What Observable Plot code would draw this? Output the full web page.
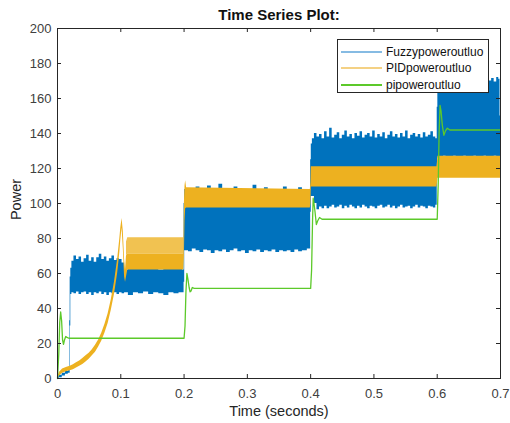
<!DOCTYPE html>
<html>
<head>
<meta charset="utf-8">
<script src="https://cdn.jsdelivr.net/npm/d3@7"></script>
<script src="https://cdn.jsdelivr.net/npm/@observablehq/plot@0.6"></script>
<style>
  html, body { margin: 0; padding: 0; background: #fff; }
  #wrap { position: relative; width: 510px; height: 423px; font-family: "Liberation Sans", Arial, sans-serif; }
  #legend { position: absolute; left: 337px; top: 39px; width: 152px; height: 54px; box-sizing: border-box;
            border: 1px solid #262626; background: #fff; }
  .row { position: absolute; left: 0; height: 16px; width: 100%; }
  .swatch { position: absolute; left: 3px; width: 41px; height: 2px; top: 7px; }
  .lab { position: absolute; left: 48px; top: 0; font-size: 12px; line-height: 16px; color: #111; white-space: nowrap; }
</style>
</head>
<body>
<div id="wrap"></div>
<script>
// ---- chart text ----
const chartTitle = "Time Series Plot:";
const xLabel = "Time (seconds)";
const yLabel = "Power";
const seriesNames = ["Fuzzypoweroutluo", "PIDpoweroutluo", "pipoweroutluo"];
const seriesColors = ["#0072BD", "#EDB120", "#5CC92A"];
const legendColors = ["#86BBE3", "#F4D184", "#5CC92A"];

// ---- ticks ----
const xTicks = [0, 0.1, 0.2, 0.3, 0.4, 0.5, 0.6, 0.7];
const xTickLabels = ["0", "0.1", "0.2", "0.3", "0.4", "0.5", "0.6", "0.7"];
const yTicks = [0, 20, 40, 60, 80, 100, 120, 140, 160, 180, 200];
const yTickLabels = ["0", "20", "40", "60", "80", "100", "120", "140", "160", "180", "200"];

// ---- Fuzzy power: oscillation envelope (low / high) ----
const fuzzyTime = [0, 0.005, 0.01, 0.015, 0.019, 0.0195, 0.0205, 0.0215,
  0.024, 0.028, 0.032, 0.036, 0.040, 0.044, 0.048, 0.052, 0.056, 0.060, 0.064, 0.068, 0.072, 0.076, 0.080, 0.084, 0.088, 0.092, 0.096, 0.100,
  0.104, 0.108, 0.116, 0.124, 0.132, 0.140, 0.148, 0.156, 0.164, 0.172, 0.180, 0.188, 0.196, 0.1995, 0.2005, 0.2015,
  0.204, 0.21, 0.216, 0.222, 0.228, 0.234, 0.24, 0.246, 0.252, 0.258, 0.264, 0.27, 0.276, 0.282, 0.288, 0.294, 0.3, 0.306, 0.312, 0.318, 0.324, 0.33, 0.336, 0.342, 0.348, 0.354, 0.36, 0.366, 0.372, 0.378, 0.384, 0.39, 0.3995, 0.4005, 0.4015,
  0.404, 0.408, 0.412, 0.416, 0.42, 0.424, 0.428, 0.432, 0.436, 0.44, 0.444, 0.448, 0.452, 0.456, 0.46, 0.464, 0.468, 0.472, 0.476, 0.48, 0.484, 0.488, 0.492, 0.496, 0.5, 0.504, 0.508, 0.512, 0.516, 0.52, 0.524, 0.528, 0.532, 0.536, 0.54, 0.544, 0.548, 0.552, 0.556, 0.56, 0.564, 0.568, 0.572, 0.576, 0.58, 0.584, 0.588, 0.592, 0.596, 0.5995, 0.6005, 0.6015,
  0.604, 0.608, 0.612, 0.616, 0.62, 0.624, 0.628, 0.632, 0.636, 0.64, 0.644, 0.648, 0.652, 0.656, 0.66, 0.664, 0.668, 0.672, 0.676, 0.68, 0.684, 0.688, 0.692, 0.696, 0.6985, 0.7];
const fuzzyLow = [0, 0.5, 1.5, 2.5, 3, 3, 30, 48,
  49, 48.5, 49.5, 48, 49, 49.5, 48, 49, 47.5, 49, 48.5, 49.5, 48, 49, 47.5, 49, 48.5, 49, 48, 49,
  48.5, 49, 47.5, 49, 48.5, 49.5, 48, 49, 48.5, 47.5, 49, 48.5, 49, 49, 55, 73,
  73, 72.5, 74, 73, 72, 73.5, 73, 71.5, 73, 72.5, 73.5, 72, 73, 74, 72.5, 73, 71.5, 73, 72.5, 73.5, 72, 73, 72.5, 73.5, 72, 73, 72.5, 73, 72, 73.5, 72.5, 73, 74, 95, 104,
  104, 100, 96.5, 98, 97, 98.5, 97, 98, 99, 97.5, 98, 99, 97, 98.5, 97.5, 99, 98, 97, 98.5, 97.5, 99, 98, 97, 98.5, 98, 97, 98.5, 99, 97.5, 98, 99, 97.5, 98.5, 97, 98, 99, 97.5, 98, 98.5, 97, 98, 99, 97.5, 98.5, 98, 97, 98.5, 98, 97.5, 99, 120, 126,
  126, 126, 127, 126, 126.5, 126, 127, 126, 126.5, 126, 127, 126, 126.5, 126, 127, 126, 126.5, 126, 127, 126, 126.5, 126, 127, 126, 126, 126];
const fuzzyHigh = [0.8, 1.8, 3, 4, 4.5, 33, 58, 63,
  67, 70, 68, 69.5, 66.5, 68.5, 70.5, 67, 69, 66.5, 69, 71, 68, 69.5, 67, 68.5, 70, 67.5, 68.5, 68,
  66, 62, 63.5, 62.5, 64, 63, 62.5, 63.5, 62, 64, 63, 62.5, 63, 62, 100, 108,
  107.5, 107.5, 107.5, 109.5, 107.5, 107.5, 110, 107.5, 107.5, 111, 107.5, 107.5, 107.5, 109.5, 107.5, 107.5, 107.5, 107.5, 110.5, 107.5, 107.5, 109, 107.5, 107.5, 107.5, 107.5, 109.5, 107.5, 107.5, 107.5, 109, 107.5, 107.5, 125, 134,
  137, 140, 138, 139.5, 137, 141, 138, 143, 137.5, 139, 140.5, 137, 139, 141.5, 138, 139.5, 137, 140, 138.5, 141, 137.5, 139, 140, 138, 141.5, 137.5, 139.5, 138, 140.5, 137, 139, 141, 138, 139.5, 137.5, 140, 138, 141.5, 137, 139, 140, 138, 139.5, 137.5, 140.5, 138, 139, 141, 138, 137, 155, 163,
  165, 166, 165.5, 167, 166, 168, 166.5, 167, 169, 167, 168, 167.5, 169, 168, 170, 168.5, 169.5, 168, 170.5, 169, 170, 171.5, 169.5, 172, 171, 150];

// ---- PID power: envelope ----
const pidTime = [0, 0.003, 0.008, 0.015, 0.02, 0.025, 0.03, 0.035, 0.04, 0.045, 0.05, 0.055, 0.06, 0.065, 0.07, 0.075, 0.08, 0.085, 0.09, 0.095, 0.0985, 0.1, 0.102, 0.104, 0.106, 0.1075, 0.109, 0.111,
  0.1995, 0.2005, 0.2015, 0.2025, 0.204, 0.3995, 0.4005, 0.401, 0.5995, 0.6005, 0.601, 0.7];
const pidLow = [0, 1.5, 3, 4, 4.5, 5, 6, 7, 8, 9.5, 11, 13, 15, 18, 21.5, 26, 31.5, 39, 48, 60, 72, 79, 86, 74, 58, 55, 58, 62,
  62, 70, 90, 97, 97.5, 97.5, 100, 109.5, 109.5, 112, 114.5, 114.5];
const pidHigh = [0.5, 3.5, 5.5, 6.5, 7, 7.8, 9, 10, 11.5, 13, 14.5, 16.5, 19, 22, 26, 31, 37, 45, 55, 68, 80, 86, 91.5, 84, 68, 62, 70, 71,
  71, 100, 110, 113, 109, 108, 112, 121, 121, 124, 127, 127];
// PID spiky oscillation zone between 0.11 s and 0.2 s
const pidSpikeTime = [0.109, 0.111, 0.1995];
const pidSpikeLow = [70, 71, 71];
const pidSpikeHigh = [78, 80.5, 80.5];

// ---- PI power ----
const piTime = [0, 0.002, 0.0035, 0.005, 0.0065, 0.008, 0.0095, 0.011, 0.013, 0.015, 0.018,
  0.2, 0.2015, 0.203, 0.2045, 0.206, 0.208, 0.2095, 0.211, 0.213, 0.216,
  0.4, 0.4015, 0.403, 0.404, 0.405, 0.407, 0.409, 0.411, 0.414, 0.418,
  0.6, 0.6015, 0.603, 0.6045, 0.606, 0.608, 0.6105, 0.613, 0.616, 0.62, 0.7];
const piPower = [0, 14, 32, 38, 33, 22, 19.5, 22, 24, 23.5, 23,
  23, 30, 50, 60, 57, 52, 49.5, 50, 52, 51.5,
  51.5, 62, 90, 103, 101, 95, 88, 90, 92, 91,
  91, 110, 140, 156, 153, 145, 139, 141.5, 143, 142, 142];

// ---- tables ----
const band = (T, L, H) => T.map((t, i) => ({t, lo: L[i], hi: H[i]}));
const fuzzy = band(fuzzyTime, fuzzyLow, fuzzyHigh);
const pid = band(pidTime, pidLow, pidHigh);
const pidSpike = band(pidSpikeTime, pidSpikeLow, pidSpikeHigh);
const pi = piTime.map((t, i) => ({t, v: piPower[i]}));

const axisColor = "#262626";
const chart = Plot.plot({
  width: 510,
  height: 423,
  marginLeft: 57,
  marginRight: 10,
  marginTop: 28,
  marginBottom: 45,
  style: {fontFamily: '"Liberation Sans", Arial, sans-serif', fontSize: "13px", color: "#333", background: "#fff", overflow: "visible"},
  x: {domain: [0, 0.7], axis: null},
  y: {domain: [0, 200], axis: null},
  marks: [
    Plot.areaY(fuzzy, {x: "t", y1: "lo", y2: "hi", fill: seriesColors[0], curve: "step"}),
    Plot.areaY(pid, {x: "t", y1: "lo", y2: "hi", fill: seriesColors[1]}),
    Plot.areaY(pidSpike, {x: "t", y1: "lo", y2: "hi", fill: seriesColors[1], fillOpacity: 0.78}),
    Plot.line(pi, {x: "t", y: "v", stroke: seriesColors[2], strokeWidth: 1.3}),
    Plot.frame({stroke: axisColor, strokeWidth: 1}),
    Plot.ruleX(xTicks, {x: d => d, insetTop: 346, stroke: axisColor}),
    Plot.ruleX(xTicks, {x: d => d, insetBottom: 346, stroke: axisColor}),
    Plot.ruleY(yTicks, {y: d => d, insetRight: 439, stroke: axisColor}),
    Plot.ruleY(yTicks, {y: d => d, insetLeft: 439, stroke: axisColor}),
    Plot.axisX(xTicks, {anchor: "bottom", tickSize: 0, tickPadding: 10, label: null,
      tickFormat: d => xTickLabels[xTicks.indexOf(d)], fontSize: 13, fill: "#404040"}),
    Plot.axisY(yTicks, {anchor: "left", tickSize: 0, tickPadding: 6, label: null,
      tickFormat: d => yTickLabels[yTicks.indexOf(d)], fontSize: 13, fill: "#404040"}),
    Plot.text([chartTitle], {frameAnchor: "top", lineAnchor: "middle", dy: -13, fontWeight: "bold", fontSize: 15, fill: "#111"}),
    Plot.text([xLabel], {frameAnchor: "bottom", lineAnchor: "middle", dy: 33, fontSize: 14.5, fill: "#262626"}),
    Plot.text([yLabel], {frameAnchor: "left", textAnchor: "middle", lineAnchor: "middle", dx: -41, dy: -4, rotate: -90, fontSize: 14.5, fill: "#262626"})
  ]
});

const wrap = document.getElementById("wrap");
wrap.appendChild(chart);

// legend (overlay in the top-right of the plot box)
const legend = document.createElement("div");
legend.id = "legend";
seriesNames.forEach((name, i) => {
  const row = document.createElement("div");
  row.className = "row";
  row.style.top = (3.5 + i * 16.5) + "px";
  const sw = document.createElement("div");
  sw.className = "swatch";
  sw.style.background = legendColors[i];
  const lab = document.createElement("div");
  lab.className = "lab";
  lab.textContent = name;
  row.appendChild(sw);
  row.appendChild(lab);
  legend.appendChild(row);
});
wrap.appendChild(legend);
</script>
</body>
</html>
